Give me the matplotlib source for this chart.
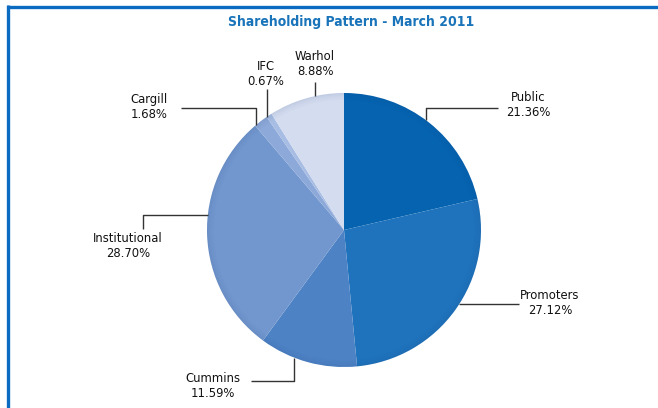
"""
Shareholding pattern pie chart - March 2011.
"""
import numpy as np
import matplotlib
matplotlib.use('Agg')
import matplotlib.pyplot as plt
import matplotlib.patches as mpatches

plt.rcParams['font.family'] = ['DejaVu Sans']

# Data
holders = ['Public', 'Promoters', 'Cummins', 'Institutional', 'Cargill', 'IFC', 'Warhol']
shares = [21.36, 27.12, 11.59, 28.70, 1.68, 0.67, 8.88]
colors = ['#0563B0', '#1F73BC', '#4D82C5', '#7297CE', '#8DA9D9', '#A8BDE3', '#D4DCEF']

W, H = 658, 408
CX, CY, R = 344, 230, 137


def py(y):
    # pixel row (top = 0) -> data y
    return H - y


# label layout: text centre (px), anchor fraction inside wedge, leader path after anchor
LAYOUT = {
    'Public':        dict(text=(528, 105), frac=0.48, path=[('v', 108), ('h', 498)]),
    'Promoters':     dict(text=(550, 303), frac=0.47, path=[('h', 519)]),
    'Cummins':       dict(text=(213, 386), frac=0.64, path=[('v', 381), ('h', 251)]),
    'Institutional': dict(text=(128, 246), frac=0.58, path=[('h', 143), ('v', 229)]),
    'Cargill':       dict(text=(149, 107), frac=0.08, path=[('v', 108), ('h', 181)]),
    'IFC':           dict(text=(266, 74), frac=0.05, path=[('v', 89)]),
    'Warhol':        dict(text=(315, 64), frac=0.62, path=[('v', 82)]),
}

fig = plt.figure(figsize=(W / 100, H / 100), dpi=100)
ax = fig.add_axes([0, 0, 1, 1])

wedges, _ = ax.pie(shares, colors=colors, startangle=90, counterclock=False,
                   center=(CX, py(CY)), radius=R, frame=True,
                   wedgeprops=dict(linewidth=0))
ax.set_xlim(0, W)
ax.set_ylim(0, H)
ax.axis('off')

# soft darker rim, fading inwards
for i, a in enumerate([0.10, 0.08, 0.06, 0.045, 0.03, 0.02, 0.01]):
    ax.add_patch(mpatches.Wedge((CX, py(CY)), R - i, 0, 360, width=1,
                                facecolor='#1b3f7a', alpha=a, linewidth=0))

# leader lines and labels
total = sum(shares)
cum = np.cumsum([0] + shares)
for name, val, start in zip(holders, shares, cum[:-1]):
    lay = LAYOUT[name]
    cw = (start + val * lay['frac']) / total * 360
    ang = np.deg2rad(90 - cw)
    x0 = CX + R * np.cos(ang)
    y0 = CY - R * np.sin(ang)
    xs, ys = [x0], [y0]
    for kind, v in lay['path']:
        if kind == 'v':
            xs.append(xs[-1]); ys.append(v)
        else:
            xs.append(v); ys.append(ys[-1])
    ax.plot(xs, [py(y) for y in ys], color='#333333', linewidth=1.0,
            solid_capstyle='butt')
    tx, ty = lay['text']
    ax.text(tx, py(ty), f'{name}\n{val:.2f}%', ha='center', va='center',
            fontsize=9.3, color='#111111', linespacing=1.15, fontstretch='condensed')

# title
ax.text(351, py(22), 'Shareholding Pattern - March 2011', ha='center', va='center',
        fontsize=10, fontweight='bold', color='#1A74BA', fontstretch='condensed')

# frame lines (top and left)
ax.plot([6.5, W], [py(6.5), py(6.5)], color='#0A6BC0', linewidth=2.4,
        solid_capstyle='butt')
ax.plot([7.5, 7.5], [py(5.3), 0], color='#0A6BC0', linewidth=2.4,
        solid_capstyle='butt')

fig.savefig('out.png', dpi=100, facecolor='white')
plt.close(fig)
